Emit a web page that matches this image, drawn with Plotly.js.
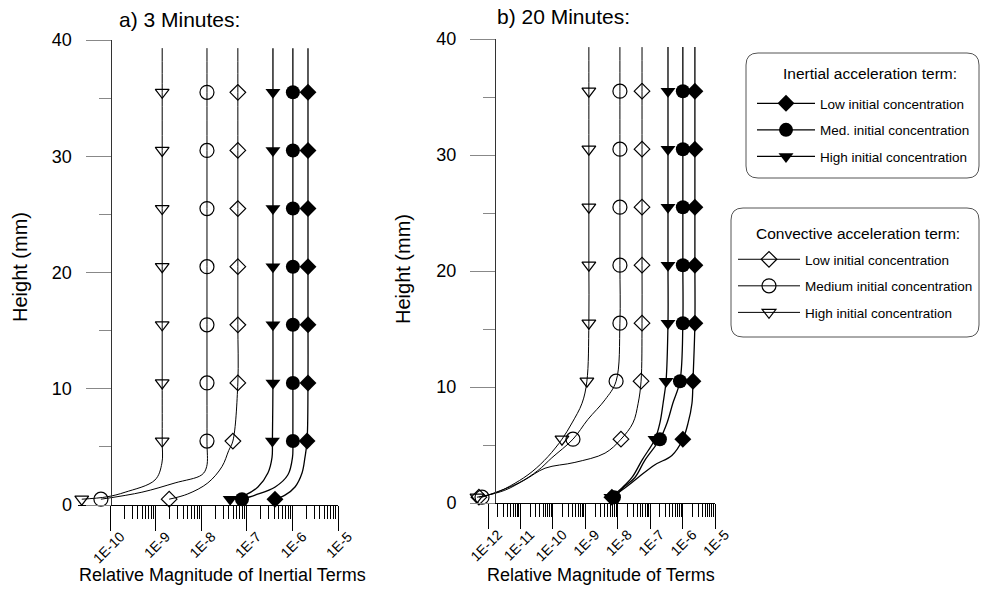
<!DOCTYPE html>
<html>
<head>
<meta charset="utf-8">
<script src="https://cdn.plot.ly/plotly-3.0.1.min.js"></script>
<style>html,body{margin:0;padding:0;background:#fff;}#chart{width:981px;height:590px;}</style>
</head>
<body>
<div id="chart"></div>
<script>
// ---------------- DATA ----------------
const markerHeights = [0.5, 5.5, 10.5, 15.5, 20.5, 25.5, 30.5, 35.5];

// a) 3 minutes (heights in mm, magnitudes)
const h3_inLow  = [0.5, 0.85, 1.55, 2.75, 4.1, 5.5, 10.5, 15.5, 20.5, 25.5, 30.5, 35.5, 39.3];
const m3_inLow  = [4.12e-7, 6.84e-7, 1.135e-6, 1.62e-6, 1.88e-6, 2.09e-6, 2.19e-6, 2.19e-6, 2.19e-6, 2.19e-6, 2.19e-6, 2.19e-6, 2.19e-6];
const h3_inMed  = [0.5, 0.85, 1.55, 2.6, 4.1, 5.5, 10.5, 15.5, 20.5, 25.5, 30.5, 35.5, 39.3];
const m3_inMed  = [7.76e-8, 1.51e-7, 4.17e-7, 7.94e-7, 1.0e-6, 1.02e-6, 1.02e-6, 1.02e-6, 1.02e-6, 1.02e-6, 1.02e-6, 1.02e-6, 1.02e-6];
const h3_inHigh = [0.5, 0.85, 1.55, 2.75, 4.1, 5.5, 10.5, 15.5, 20.5, 25.5, 30.5, 35.5, 39.3];
const m3_inHigh = [4.27e-8, 9.1e-8, 1.74e-7, 2.88e-7, 3.55e-7, 3.62e-7, 3.72e-7, 3.72e-7, 3.72e-7, 3.72e-7, 3.72e-7, 3.72e-7, 3.72e-7];
const h3_convLow  = [0.5, 0.95, 1.9, 3.3, 4.7, 5.5, 10.5, 15.5, 20.5, 25.5, 30.5, 35.5, 39.3];
const m3_convLow  = [1.95e-9, 5.0e-9, 1.38e-8, 2.82e-8, 3.98e-8, 4.9e-8, 6.3e-8, 6.3e-8, 6.3e-8, 6.3e-8, 6.3e-8, 6.3e-8, 6.3e-8];
const h3_convMed  = [0.5, 1.1, 1.9, 2.6, 3.3, 5.5, 10.5, 15.5, 20.5, 25.5, 30.5, 35.5, 39.3];
const m3_convMed  = [6.17e-11, 4.9e-10, 2.63e-9, 1.02e-8, 1.3e-8, 1.32e-8, 1.32e-8, 1.32e-8, 1.32e-8, 1.32e-8, 1.32e-8, 1.32e-8, 1.32e-8];
const h3_convHigh = [0.5, 0.7, 1.1, 2.15, 3.6, 5.5, 10.5, 15.5, 20.5, 25.5, 30.5, 35.5, 39.3];
const m3_convHigh = [2.34e-11, 8.3e-11, 2.1e-10, 9.5e-10, 1.35e-9, 1.37e-9, 1.37e-9, 1.37e-9, 1.37e-9, 1.37e-9, 1.37e-9, 1.37e-9, 1.37e-9];

// b) 20 minutes
const h20_inLow  = [0.5, 1.3, 2.2, 3.3, 4.1, 5.5, 6.9, 8.6, 10.5, 15.5, 20.5, 25.5, 30.5, 35.5, 39.3];
const m20_inLow  = [6.61e-9, 1.66e-8, 4.27e-8, 1.41e-7, 4.68e-7, 1.02e-6, 1.48e-6, 1.95e-6, 2.09e-6, 2.4e-6, 2.4e-6, 2.4e-6, 2.4e-6, 2.4e-6, 2.4e-6];
const h20_inMed  = [0.5, 1.3, 2.2, 3.7, 5.5, 6.9, 8.6, 10.5, 15.5, 20.5, 25.5, 30.5, 35.5, 39.3];
const m20_inMed  = [7.67e-9, 1.45e-8, 3.39e-8, 6.92e-8, 2.0e-7, 3.31e-7, 5.01e-7, 8.32e-7, 1.02e-6, 1.02e-6, 1.02e-6, 1.02e-6, 1.02e-6, 1.02e-6];
const h20_inHigh = [0.5, 1.3, 2.2, 3.7, 5.5, 6.9, 8.6, 10.5, 15.5, 20.5, 25.5, 30.5, 35.5, 39.3];
const m20_inHigh = [6.17e-9, 1.35e-8, 2.75e-8, 5.62e-8, 1.41e-7, 2.0e-7, 2.51e-7, 3.09e-7, 3.55e-7, 3.55e-7, 3.55e-7, 3.55e-7, 3.55e-7, 3.55e-7];
const h20_convLow  = [0.5, 1.1, 2.0, 3.0, 3.5, 4.3, 5.5, 6.9, 8.6, 10.5, 15.5, 20.5, 25.5, 30.5, 35.5, 39.3];
const m20_convLow  = [5.25e-13, 3.31e-12, 1.38e-11, 5.75e-11, 4.79e-10, 4.07e-9, 1.26e-8, 2.95e-8, 4.27e-8, 5.25e-8, 5.62e-8, 5.62e-8, 5.62e-8, 5.62e-8, 5.62e-8, 5.62e-8];
const h20_convMed  = [0.5, 1.7, 2.8, 3.9, 5.5, 7.2, 8.9, 10.5, 15.5, 20.5, 25.5, 30.5, 35.5, 39.3];
const m20_convMed  = [6.53e-13, 8.41e-12, 3.47e-11, 9.33e-11, 4.17e-10, 1.2e-9, 4.07e-9, 8.91e-9, 1.17e-8, 1.17e-8, 1.17e-8, 1.17e-8, 1.17e-8, 1.17e-8];
const h20_convHigh = [0.5, 0.86, 1.7, 2.7, 4.0, 5.5, 6.9, 8.6, 10.5, 15.5, 20.5, 25.5, 30.5, 35.5, 39.3];
const m20_convHigh = [4.57e-13, 1.66e-12, 6.76e-12, 2.29e-11, 7.08e-11, 1.91e-10, 3.89e-10, 7.94e-10, 1.12e-9, 1.29e-9, 1.29e-9, 1.29e-9, 1.29e-9, 1.29e-9, 1.29e-9];

// ticks
const xTicks3  = [1e-10, 1e-9, 1e-8, 1e-7, 1e-6, 1e-5];
const xLabels3 = ['1E-10', '1E-9', '1E-8', '1E-7', '1E-6', '1E-5'];
const xTicks20  = [1e-12, 1e-11, 1e-10, 1e-9, 1e-8, 1e-7, 1e-6, 1e-5];
const xLabels20 = ['1E-12', '1E-11', '1E-10', '1E-9', '1E-8', '1E-7', '1E-6', '1E-5'];
const yTicks  = [0, 10, 20, 30, 40];
const yLabels = ['0', '10', '20', '30', '40'];

const legendNamesInertial   = ['Low initial concentration', 'Med. initial concentration', 'High initial concentration'];
const legendNamesConvective = ['Low initial concentration', 'Medium initial concentration', 'High initial concentration'];

// ---------------- BUILD ----------------
const W = 981, H = 590;
const FONT = 'Arial, "Liberation Sans", sans-serif';
const px = v => v / W;
const py = v => 1 - v / H;

function minorVals(majors) {
  const out = [];
  for (let i = 0; i < majors.length - 1; i++) {
    for (let k = 2; k <= 9; k++) out.push(majors[i] * k);
  }
  return out;
}

function series(h, m, xa, ya, sym, size, open, name, legend, group, show) {
  return {
    type: 'scatter', mode: 'lines+markers',
    x: m, y: h, xaxis: xa, yaxis: ya,
    name: name, legend: legend, legendgroup: group, showlegend: show,
    cliponaxis: false,
    line: {color: '#000', width: open ? 1 : 1.3, shape: 'spline', smoothing: 1},
    marker: {
      symbol: sym, size: size, opacity: 1,
      color: h.map(v => markerHeights.includes(v) ? '#000' : 'rgba(0,0,0,0)'),
      line: {color: '#000', width: open ? 1.2 : 0}
    },
    hoverinfo: 'x+y'
  };
}

const traces = [
  // left panel (no legend)
  series(h3_inLow,  m3_inLow,  'x',  'y',  'diamond', 13, false, legendNamesInertial[0], 'legend', 'a1', false),
  series(h3_inMed,  m3_inMed,  'x',  'y',  'circle', 14, false, legendNamesInertial[1], 'legend', 'a2', false),
  series(h3_inHigh, m3_inHigh, 'x',  'y',  'triangle-down', 13, false, legendNamesInertial[2], 'legend', 'a3', false),
  series(h3_convLow,  m3_convLow,  'x', 'y', 'diamond-open', 12, true, legendNamesConvective[0], 'legend2', 'b1', false),
  series(h3_convMed,  m3_convMed,  'x', 'y', 'circle-open', 14, true, legendNamesConvective[1], 'legend2', 'b2', false),
  series(h3_convHigh, m3_convHigh, 'x', 'y', 'triangle-down-open', 12, true, legendNamesConvective[2], 'legend2', 'b3', false),
  // right panel (carries legends)
  series(h20_inLow,  m20_inLow,  'x2', 'y2', 'diamond', 13, false, legendNamesInertial[0], 'legend', 'a1', true),
  series(h20_inMed,  m20_inMed,  'x2', 'y2', 'circle', 14, false, legendNamesInertial[1], 'legend', 'a2', true),
  series(h20_inHigh, m20_inHigh, 'x2', 'y2', 'triangle-down', 13, false, legendNamesInertial[2], 'legend', 'a3', true),
  series(h20_convLow,  m20_convLow,  'x2', 'y2', 'diamond-open', 12, true, legendNamesConvective[0], 'legend2', 'b1', true),
  series(h20_convMed,  m20_convMed,  'x2', 'y2', 'circle-open', 14, true, legendNamesConvective[1], 'legend2', 'b2', true),
  series(h20_convHigh, m20_convHigh, 'x2', 'y2', 'triangle-down-open', 12, true, legendNamesConvective[2], 'legend2', 'b3', true)
];

function xAxis(domain, range, ticks, labels, anchor) {
  return {
    type: 'log', domain: domain, range: range, anchor: anchor,
    showgrid: false, zeroline: false,
    showline: true, linecolor: '#000', linewidth: 1,
    tickmode: 'array', tickvals: ticks, ticktext: labels,
    ticks: 'outside', ticklen: 25, tickwidth: 1, tickcolor: '#000',
    tickangle: -45, ticklabelshift: 10, ticklabelstandoff: -8,
    tickfont: {family: FONT, size: 14, color: '#000'},
    minor: {tickmode: 'array', tickvals: minorVals(ticks), ticks: 'outside', ticklen: 13, tickwidth: 1, tickcolor: '#000', showgrid: false},
    fixedrange: true
  };
}
function yAxis(domain, position) {
  return {
    domain: domain, range: [0, 40], anchor: 'free', position: position, side: 'left',
    showgrid: false, zeroline: false,
    showline: true, linecolor: '#333', linewidth: 1,
    tickmode: 'array', tickvals: yTicks, ticktext: yLabels,
    ticks: 'outside', ticklen: 25, tickwidth: 1, tickcolor: '#888',
    ticklabelstandoff: 10,
    tickfont: {family: FONT, size: 18, color: '#000'},
    minor: {dtick: 5, tick0: 0, ticks: 'outside', ticklen: 12, tickwidth: 1, tickcolor: '#888', showgrid: false},
    fixedrange: true
  };
}

function roundRect(x0, y0, x1, y1, r) {
  const rx = r / W, ry = r / H;
  const X0 = px(x0), X1 = px(x1), Y0 = py(y0), Y1 = py(y1);
  return `M ${X0 + rx},${Y0} L ${X1 - rx},${Y0} Q ${X1},${Y0} ${X1},${Y0 - ry} ` +
         `L ${X1},${Y1 + ry} Q ${X1},${Y1} ${X1 - rx},${Y1} ` +
         `L ${X0 + rx},${Y1} Q ${X0},${Y1} ${X0},${Y1 + ry} ` +
         `L ${X0},${Y0 - ry} Q ${X0},${Y0} ${X0 + rx},${Y0} Z`;
}

const legendBase = {
  xanchor: 'left', yanchor: 'top',
  bgcolor: 'rgba(0,0,0,0)', borderwidth: 0,
  font: {family: FONT, size: 13.5, color: '#000'},
  traceorder: 'grouped', tracegroupgap: 6,
  itemsizing: 'trace', itemclick: false, itemdoubleclick: false
};

function note(text, x, y, size, extra) {
  return Object.assign({text: text, xref: 'paper', yref: 'paper', x: px(x), y: py(y),
    xanchor: 'center', yanchor: 'middle', showarrow: false,
    font: {family: FONT, size: size, color: '#000'}}, extra || {});
}

const layout = {
  width: W, height: H,
  margin: {l: 0, r: 0, t: 0, b: 0},
  paper_bgcolor: '#fff', plot_bgcolor: 'rgba(0,0,0,0)',
  font: {family: FONT, color: '#000'},
  showlegend: true,
  xaxis:  xAxis([px(77.7), px(338)], [-10.72, -5.0], xTicks3, xLabels3, 'y'),
  yaxis:  yAxis([1 - 505 / H, 1 - 40 / H], px(110.5)),
  xaxis2: xAxis([px(470), px(715)], [-12.555, -5.0], xTicks20, xLabels20, 'y2'),
  yaxis2: yAxis([1 - 503 / H, 1 - 39 / H], px(495)),
  legend:  Object.assign({}, legendBase, {x: px(752), y: py(88), itemwidth: 58}),
  legend2: Object.assign({}, legendBase, {x: px(733), y: py(244), itemwidth: 62}),
  shapes: [
    {type: 'path', xref: 'paper', yref: 'paper', path: roundRect(746, 53, 979, 178, 12), line: {color: '#555', width: 1}},
    {type: 'path', xref: 'paper', yref: 'paper', path: roundRect(731, 208, 979, 337, 12), line: {color: '#555', width: 1}}
  ],
  annotations: [
    note('a) 3 Minutes:', 117, 19, 21, {xanchor: 'left'}),
    note('b) 20 Minutes:', 495, 17, 21, {xanchor: 'left'}),
    note('Height (mm)', 20, 267, 20, {textangle: -90}),
    note('Height (mm)', 403, 269, 20, {textangle: -90}),
    note('Relative Magnitude of Inertial Terms', 222, 575, 18),
    note('Relative Magnitude of Terms', 601, 575, 18),
    note('Inertial acceleration term:', 870, 73, 15.5),
    note('Convective acceleration term:', 858, 233, 15.5)
  ]
};

Plotly.newPlot('chart', traces, layout, {staticPlot: true, displayModeBar: false});
</script>
</body>
</html>
